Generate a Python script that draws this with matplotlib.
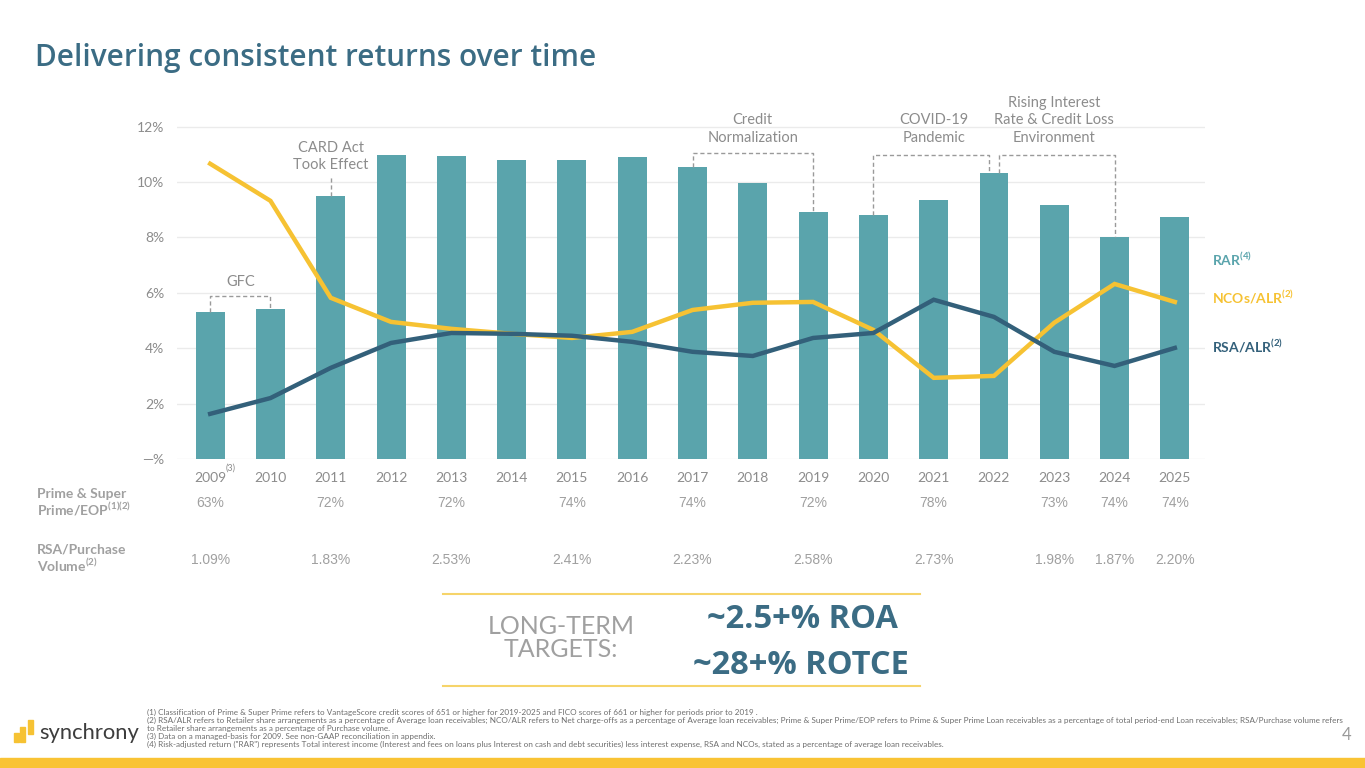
import numpy as np
import matplotlib.pyplot as plt
from matplotlib.patches import Rectangle
from matplotlib.lines import Line2D

plt.rcParams['font.family'] = ['Lato', 'DejaVu Sans']
plt.rcParams['mathtext.fontset'] = 'custom'
plt.rcParams['mathtext.rm'] = 'Lato'
plt.rcParams['mathtext.bf'] = 'Lato:bold'

# data (percent)
years = ['2009', '2010', '2011', '2012', '2013', '2014', '2015', '2016', '2017',
         '2018', '2019', '2020', '2021', '2022', '2023', '2024', '2025']
rar = [5.31, 5.42, 9.50, 10.99, 10.95, 10.80, 10.80, 10.90, 10.55,
       9.97, 8.93, 8.82, 9.36, 10.34, 9.18, 8.02, 8.75]
nco_alr = [10.66, 9.32, 5.82, 4.95, 4.70, 4.52, 4.37, 4.59, 5.38,
           5.64, 5.67, 4.66, 2.93, 3.00, 4.92, 6.32, 5.67]
rsa_alr = [1.63, 2.20, 3.29, 4.19, 4.55, 4.52, 4.45, 4.23, 3.87,
           3.72, 4.37, 4.55, 5.75, 5.13, 3.87, 3.36, 4.01]

prime_years = ['2009', '2011', '2013', '2015', '2017', '2019', '2021', '2023', '2024', '2025']
prime_eop = ['63%', '72%', '72%', '74%', '74%', '72%', '78%', '73%', '74%', '74%']
rsa_purchase = ['1.09%', '1.83%', '2.53%', '2.41%', '2.23%', '2.58%', '2.73%', '1.98%', '1.87%', '2.20%']

TEAL = '#5aa4ac'
YELLOW = '#f6c233'
NAVY = '#33607a'
TITLE = '#3b6c84'
GREY = '#8c8c8c'
LGREY = '#a0a0a0'

fig = plt.figure(figsize=(13.65, 7.68), dpi=100)
ax = fig.add_axes([177/1365, 1 - 459/768, (1205 - 177)/1365, (459 - 110)/768])

x = np.arange(len(years))
ax.bar(x, rar, width=0.48, color=TEAL, zorder=2)
ax.plot(x, nco_alr, color=YELLOW, lw=3.2, zorder=3, solid_joinstyle='miter')
ax.plot(x, rsa_alr, color=NAVY, lw=3.2, zorder=3, solid_joinstyle='miter')

ax.set_xlim(-0.55, 16.5)
ax.set_ylim(0, 12.6)
ax.set_yticks(range(0, 13, 2))
ax.set_yticklabels(['—%'] + ['%d%%' % v for v in range(2, 13, 2)])
ax.grid(axis='y', color='#ebebeb', lw=1, zorder=0)
ax.set_xticks(x)
ax.set_xticklabels(years)
ax.tick_params(length=0, labelsize=10, labelcolor=GREY, pad=9)
ax.tick_params(axis='y', pad=9)
for s in ax.spines.values():
    s.set_visible(False)
# footnote marker on 2009
ax.text(0.25, -0.026, '(3)', transform=ax.get_xaxis_transform(), fontsize=6.5,
        color=GREY, ha='left', va='center', clip_on=False)

# annotation brackets
def bracket(i0, i1, yb, off0=0.0, off1=0.0):
    xs = [i0 + off0, i0 + off0, i1 + off1, i1 + off1]
    ys = [rar[i0], yb, yb, rar[i1]]
    ax.plot(xs, ys, color='#9a9a9a', lw=1, ls=(0, (3, 2)), clip_on=False, zorder=4)

ann = dict(ha='center', va='bottom', fontsize=10.5, color=GREY, linespacing=1.3)
bracket(0, 1, 5.89)
ax.text(0.5, 6.15, 'GFC', **ann)
ax.plot([2, 2], [rar[2], 10.2], color='#9a9a9a', lw=1, ls=(0, (3, 2)), zorder=4)
ax.text(2, 10.35, 'CARD Act\nTook Effect', **ann)
bracket(8, 10, 11.06)
ax.text(9, 11.35, 'Credit\nNormalization', **ann)
bracket(11, 13, 10.99, 0, -0.08)
ax.text(12, 11.35, 'COVID-19\nPandemic', **ann)
bracket(13, 15, 10.99, 0.08, 0)
ax.text(14, 11.35, 'Rising Interest\nRate & Credit Loss\nEnvironment', **ann)

# series labels on the right
ax.text(16.62, 7.2, r'RAR$^{\mathbf{(4)}}$', color=TEAL, fontsize=10, fontweight='bold', va='center', clip_on=False)
ax.text(16.62, 5.82, r'NCOs/ALR$^{\mathbf{(2)}}$', color=YELLOW, fontsize=10, fontweight='bold', va='center', clip_on=False)
ax.text(16.62, 4.05, r'RSA/ALR$^{\mathbf{(2)}}$', color=NAVY, fontsize=10, fontweight='bold', va='center', clip_on=False)

# table rows below the chart
tr = ax.get_xaxis_transform()
for yr, p, r in zip(prime_years, prime_eop, rsa_purchase):
    i = years.index(yr)
    ax.text(i, -0.125, p, transform=tr, ha='center', va='center', fontsize=10,
            color=LGREY, family='Liberation Sans', clip_on=False)
    ax.text(i, -0.29, r, transform=tr, ha='center', va='center', fontsize=10,
            color=LGREY, family='Liberation Sans', clip_on=False)

fig.text(37/1365, 1 - 503/768, 'Prime & Super\nPrime/EOP$^{\\mathbf{(1)(2)}}$', fontsize=10,
         fontweight='bold', color=LGREY, va='center', linespacing=1.1)
fig.text(37/1365, 1 - 559/768, 'RSA/Purchase\nVolume$^{\\mathbf{(2)}}$', fontsize=10,
         fontweight='bold', color=LGREY, va='center', linespacing=1.1)

# title
fig.text(35/1365, 1 - 58/768, 'Delivering consistent returns over time', fontsize=21.4,
         fontweight='semibold', family='Open Sans', color=TITLE, va='center')

# long-term targets box
fig.add_artist(Line2D([443/1365, 920/1365], [1 - 594/768] * 2, color='#f6d46a', lw=1.5))
fig.add_artist(Line2D([443/1365, 920/1365], [1 - 686/768] * 2, color='#f6d46a', lw=1.5))
fig.text(561/1365, 1 - 638/768, 'LONG-TERM\nTARGETS:', fontsize=18, color=LGREY,
         ha='center', va='center', linespacing=1.0)
fig.text(802/1365, 1 - 620/768, '~2.5+% ROA', fontsize=23.5, fontweight='bold', family='Open Sans',
         color=TITLE, ha='center', va='center')
fig.text(801/1365, 1 - 665/768, '~28+% ROTCE', fontsize=23.5, fontweight='bold', family='Open Sans',
         color=TITLE, ha='center', va='center')

# footnotes
notes = [
    '(1) Classification of Prime & Super Prime refers to VantageScore credit scores of 651 or higher for 2019-2025 and FICO scores of 661 or higher for periods prior to 2019 .',
    '(2) RSA/ALR refers to Retailer share arrangements as a percentage of Average loan receivables; NCO/ALR refers to Net charge-offs as a percentage of Average loan receivables; Prime & Super Prime/EOP refers to Prime & Super Prime Loan receivables as a percentage of total period-end Loan receivables; RSA/Purchase volume refers',
    'to Retailer share arrangements as a percentage of Purchase volume.',
    '(3) Data on a managed-basis for 2009. See non-GAAP reconciliation in appendix.',
    '(4) Risk-adjusted return ("RAR") represents Total interest income (Interest and fees on loans plus Interest on cash and debt securities) less interest expense, RSA and NCOs, stated as a percentage of average loan receivables.',
]
for k, n in enumerate(notes):
    fig.text(147/1365, 1 - (712 + k * 8.1)/768, n, fontsize=5.85, color='#6e6e6e', va='center')

# logo and page number
fig.text(39/1365, 1 - 733/768, 'synchrony', fontsize=15.8, color='#3d3d3d', va='center')
for bx, ytop, ybot in [(14, 733, 742), (20, 727, 742), (28, 720, 734)]:
    fig.add_artist(Rectangle((bx/1365, 1 - ybot/768), 4.5/1365, (ybot - ytop)/768,
                             color=YELLOW, transform=fig.transFigure))
fig.text(1347/1365, 1 - 735/768, '4', fontsize=12, color='#9a9a9a', va='center', ha='center')
fig.add_artist(Rectangle((0, 0), 1, 10/768, color='#f9c334', transform=fig.transFigure))

fig.savefig('out.png', dpi=100)
